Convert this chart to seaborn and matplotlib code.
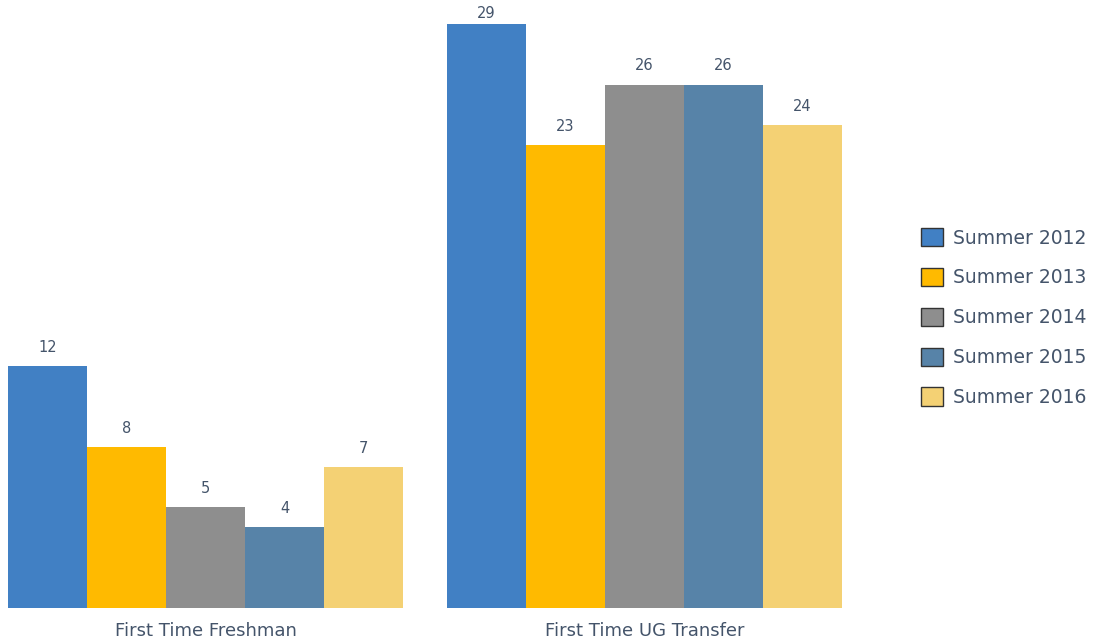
import pandas as pd
import matplotlib.pyplot as plt
import seaborn as sns
from matplotlib.patches import Patch

# data
categories = ['First Time Freshman', 'First Time UG Transfer']
terms = ['Summer 2012', 'Summer 2013', 'Summer 2014', 'Summer 2015', 'Summer 2016']
freshman = [12, 8, 5, 4, 7]
transfer = [29, 23, 26, 26, 24]
colors = ['#4180C4', '#FFBA00', '#8E8E8E', '#5783A8', '#F4D174']

text_color = '#44546A'

rows = []
for t, f, u in zip(terms, freshman, transfer):
    rows.append({'cat': categories[0], 'term': t, 'n': f})
    rows.append({'cat': categories[1], 'term': t, 'n': u})
df = pd.DataFrame(rows)

sns.set_style('white')
plt.rcParams['font.family'] = ['DejaVu Sans']

fig = plt.figure(figsize=(10.99, 6.44), dpi=100)
ax = fig.add_axes([8 / 1099, 36 / 644, 834 / 1099, 608 / 644])

sns.barplot(data=df, x='cat', y='n', hue='term', order=categories,
            hue_order=terms, palette=colors, saturation=1, width=0.9,
            linewidth=0, legend=False, ax=ax)

ymax = 30.2
for c in ax.containers:
    anns = ax.bar_label(c, fmt='%d', padding=8, fontsize=10.5, color=text_color)
    for a, bar in zip(anns, c):
        # label squeezed down when the bar almost reaches the top
        if bar.get_height() > ymax - 2:
            a.xyann = (0, 2)

ax.set_xlim(-0.45, 1.45)
ax.set_ylim(0, ymax)
ax.set_xlabel('')
ax.set_ylabel('')
ax.set_yticks([])
ax.tick_params(axis='x', length=0, labelsize=13, labelcolor=text_color, pad=10)
sns.despine(ax=ax, left=True, bottom=True)

handles = [Patch(facecolor=c, edgecolor='#333333', linewidth=1) for c in colors]
fig.legend(handles, terms, loc='center left', bbox_to_anchor=(921 / 1099, 0.507),
           frameon=False, fontsize=13.5, labelcolor=text_color,
           borderpad=0, borderaxespad=0,
           handlelength=1.15, handleheight=1.15, handletextpad=0.55,
           labelspacing=1.08)

plt.savefig('out.png', dpi=100)
